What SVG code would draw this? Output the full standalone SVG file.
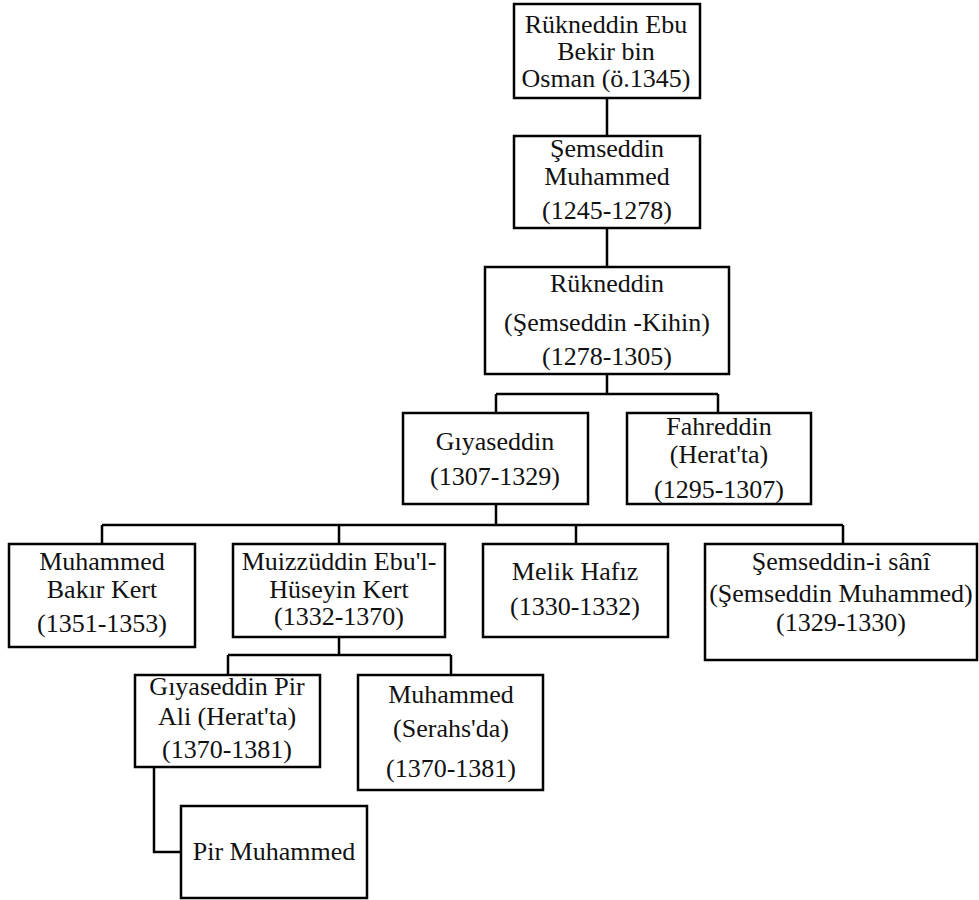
<svg xmlns="http://www.w3.org/2000/svg" width="979" height="900" viewBox="0 0 979 900">
<style>
rect{fill:#fff;stroke:#000;stroke-width:2.5}
text{font-family:"Liberation Serif","Times New Roman",serif;font-size:26px;fill:#111;text-anchor:middle}
.c{fill:none;stroke:#000;stroke-width:2.5}
</style>
<rect x="0" y="0" width="979" height="900" style="stroke:none"/>
<g id="connectors">
<path class="c" d="M607 98V136M607 228V267M607 374V394M496 394H718M496 394V413M718 394V413"/>
<path class="c" d="M496 504V525M102 525H843M102 525V544M339 525V544M576 525V544M843 525V544"/>
<path class="c" d="M339 637V655M228 655H451M228 655V675M451 655V675"/>
<path class="c" d="M154 767V852H181"/>
</g>
<g id="n1"><rect x="514" y="4" width="186" height="94"/><text x="606" y="33">Rükneddin Ebu</text><text x="606" y="60">Bekir bin</text><text x="606" y="87">Osman (ö.1345)</text></g>
<g id="n2"><rect x="514" y="136" width="186" height="92"/><text x="607" y="157">Şemseddin</text><text x="607" y="185">Muhammed</text><text x="607" y="219">(1245-1278)</text></g>
<g id="n3"><rect x="485" y="267" width="244" height="107"/><text x="607" y="292">Rükneddin</text><text x="607" y="331">(Şemseddin -Kihin)</text><text x="607" y="365">(1278-1305)</text></g>
<g id="n4"><rect x="403" y="413" width="185" height="91"/><text x="495" y="450">Gıyaseddin</text><text x="495" y="485">(1307-1329)</text></g>
<g id="n5"><rect x="627" y="413" width="184" height="91"/><text x="719" y="435">Fahreddin</text><text x="719" y="463">(Herat'ta)</text><text x="719" y="498">(1295-1307)</text></g>
<g id="n6"><rect x="9" y="544" width="186" height="103"/><text x="102" y="570">Muhammed</text><text x="102" y="598">Bakır Kert</text><text x="102" y="632">(1351-1353)</text></g>
<g id="n7"><rect x="233" y="544" width="212" height="93"/><text x="339" y="570">Muizzüddin Ebu'l-</text><text x="339" y="598">Hüseyin Kert</text><text x="339" y="625">(1332-1370)</text></g>
<g id="n8"><rect x="483" y="544" width="185" height="93"/><text x="575" y="580">Melik Hafız</text><text x="575" y="615">(1330-1332)</text></g>
<g id="n9"><rect x="705" y="544" width="272" height="116"/><text x="841" y="570">Şemseddin-i sânî</text><text x="841" y="602">(Şemseddin Muhammed)</text><text x="841" y="631">(1329-1330)</text></g>
<g id="n10"><rect x="135" y="675" width="185" height="92"/><text x="227" y="695">Gıyaseddin Pir</text><text x="227" y="725">Ali (Herat'ta)</text><text x="227" y="758">(1370-1381)</text></g>
<g id="n11"><rect x="358" y="675" width="185" height="115"/><text x="451" y="703">Muhammed</text><text x="451" y="737">(Serahs'da)</text><text x="451" y="777">(1370-1381)</text></g>
<g id="n12"><rect x="181" y="806" width="186" height="92"/><text x="274" y="860">Pir Muhammed</text></g>
</svg>
